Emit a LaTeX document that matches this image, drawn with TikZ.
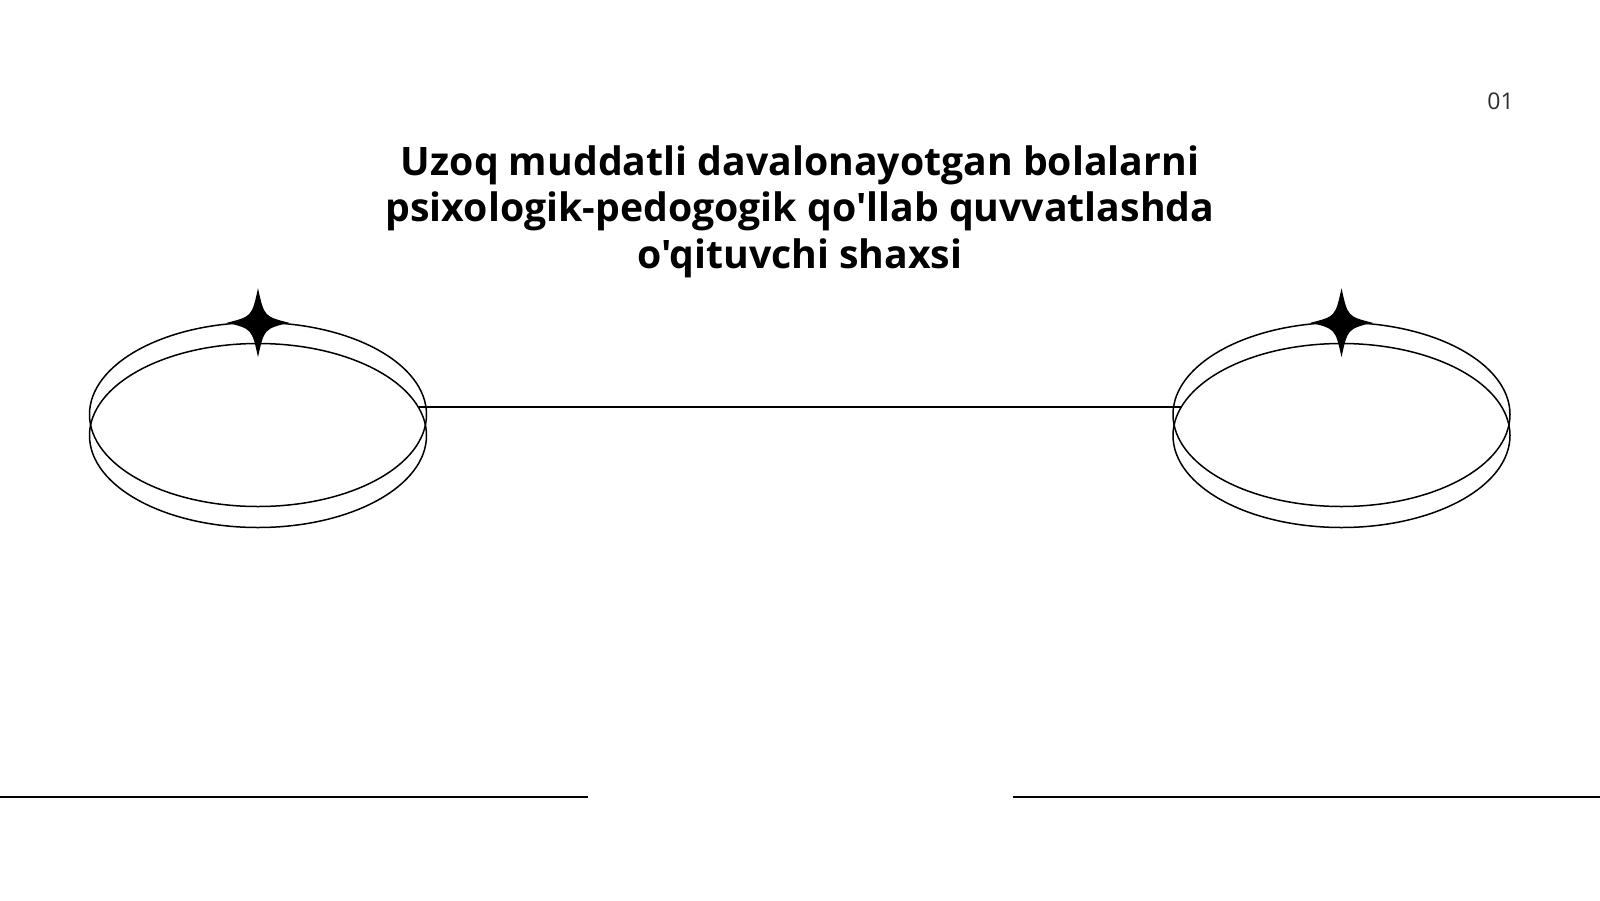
\documentclass[tikz,border=0pt]{standalone}
\usepackage{fontspec}
\setmainfont{Open Sans}[Ligatures=TeXOff]
\usetikzlibrary{shapes.geometric}

\newcommand{\sparkle}[3]{
	\pgfmathsetmacro{\SPx}{#1}
	\pgfmathsetmacro{\SPy}{#2}
	\pgfmathsetmacro{\SPw}{#3}
	\pgfmathsetmacro{\SPh}{1.11 * #3}
	\pgfmathsetmacro{\SPc}{0.2 * #3}
	\fill (\SPx, \SPy - \SPh) .. controls (\SPx + \SPc, \SPy - \SPc) .. (\SPx + \SPw, \SPy)
		.. controls (\SPx + \SPc, \SPy + \SPc) .. (\SPx, \SPy + \SPh)
		.. controls (\SPx - \SPc, \SPy + \SPc) .. (\SPx - \SPw, \SPy)
		.. controls (\SPx - \SPc, \SPy - \SPc) .. cycle;
}

\tikzset{
	ring/.style={ellipse, draw, line width=0.75pt, minimum width=168.5pt, minimum height=92pt, inner sep=0pt},
	rule/.style={line width=0.8pt},
	heading/.style={align=center, inner sep=0pt, font=\fontsize{19.6}{23.3}\selectfont\bfseries},
	pagenum/.style={inner sep=0pt, text=black!82, font=\fontsize{11.5}{14}\selectfont}
}

\begin{document}
\begin{tikzpicture}[x=0.5pt, y=-0.5pt]
\fill[white] (0,0) rectangle (1600,900);
\useasboundingbox (0,0) rectangle (1600,900);

\pgfmathsetmacro{\ringLx}{258}
\pgfmathsetmacro{\ringRx}{1341.5}
\pgfmathsetmacro{\ringHi}{414.5}
\pgfmathsetmacro{\ringLo}{435.5}
\pgfmathsetmacro{\floorY}{797}

\node[heading, anchor=north] (title) at (800, 145) {Uzoq muddatli davalonayotgan bolalarni\\psixologik-pedogogik qo'llab quvvatlashda\\o'qituvchi shaxsi};
\node[pagenum] (page) at (1500.5, 101.5) {01};

\node[ring] (topL) at (\ringLx, \ringHi) {};
\node[ring] (lowL) at (\ringLx, \ringLo) {};
\node[ring] (topR) at (\ringRx, \ringHi) {};
\node[ring] (lowR) at (\ringRx, \ringLo) {};

\draw[line width=0.75pt] (lowL.10.6) -- (lowR.169.4 |- lowL.10.6);

\sparkle{\ringLx}{322.7}{31}
\sparkle{\ringRx}{322.7}{31}

\coordinate (floorA) at (0, \floorY);
\coordinate (floorB) at (588, \floorY);
\coordinate (floorC) at (1013, \floorY);
\coordinate (floorD) at (1600, \floorY);
\draw[rule] (floorA) -- (floorB);
\draw[rule] (floorC) -- (floorD);
\end{tikzpicture}
\end{document}
